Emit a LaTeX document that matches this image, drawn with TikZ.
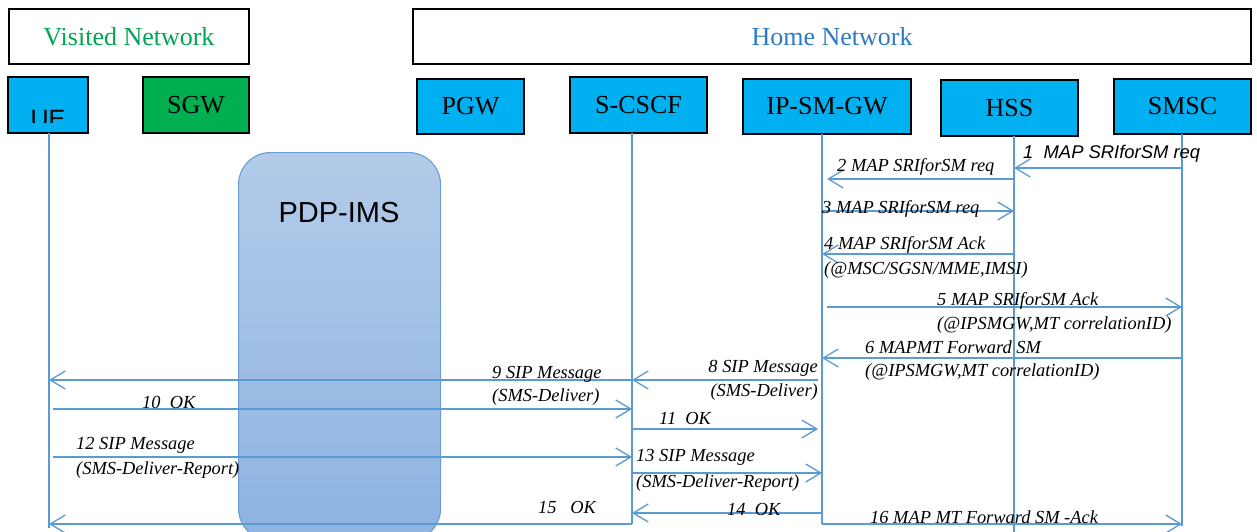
\documentclass[tikz,border=0pt]{standalone}
\usepackage{fontspec}
\setmainfont{Liberation Serif}
\newfontfamily\arialf{Liberation Sans}
\usetikzlibrary{arrows.meta}
\definecolor{entfill}{HTML}{00B0F0}
\definecolor{sgwfill}{HTML}{00B050}
\definecolor{lnblue}{HTML}{5B9BD5}
\definecolor{vgreen}{HTML}{00A651}
\definecolor{hblue}{HTML}{2E7BC4}
\definecolor{pdptop}{HTML}{B3CBE8}
\definecolor{pdpbot}{HTML}{8DB3E2}
\definecolor{pdpline}{HTML}{6D9DD4}
\tikzset{
  entity/.style={draw=black, line width=1.2pt, fill=entfill, inner sep=0pt, font=\fontsize{26}{28}\selectfont},
  netbox/.style={draw=black, line width=1.2pt, fill=white, inner sep=0pt, font=\fontsize{26}{28}\selectfont},
  pdpbox/.style={draw=pdpline, line width=1.1pt, rounded corners=32pt, top color=pdptop, bottom color=pdpbot, inner sep=0pt},
  life/.style={draw=lnblue, line width=1.1pt},
  msg/.style={draw=lnblue, line width=1.3pt, -{Straight Barb[length=15pt,width=18pt]}},
  lbl/.style={font=\itshape\fontsize{18.4}{22}\selectfont, inner sep=0pt, anchor=base west},
  lblr/.style={lbl, anchor=base east},
}
\begin{document}
\begin{tikzpicture}[x=1pt,y=-1pt]
\useasboundingbox (0,0) rectangle (1257,532);
\fill[white] (0,0) rectangle (1257,532);

% network boxes
\node[netbox, minimum width=240pt, minimum height=55pt, text=vgreen] (visited) at (129,36.5) {Visited Network};
\node[netbox, minimum width=838pt, minimum height=55pt, text=hblue] (home) at (832,36.5) {Home Network};

% entities
\node[entity, minimum width=80pt, minimum height=56pt] (ue) at (48,105) {};
\begin{scope}
  \clip (10,79) rectangle (86,123);
  \node[font=\arialf\fontsize{25}{25}\selectfont, inner sep=0pt, anchor=base] (uetext) at (48,128) {UE};
\end{scope}
\node[entity, fill=sgwfill, minimum width=106pt, minimum height=56pt] (sgw) at (196,105) {SGW};
\node[entity, minimum width=107pt, minimum height=55pt] (pgw) at (470.5,106.5) {PGW};
\node[entity, minimum width=137pt, minimum height=56pt] (scscf) at (638.5,105) {S-CSCF};
\node[entity, minimum width=168pt, minimum height=55pt] (ipsmgw) at (827,106.5) {IP-SM-GW};
\node[entity, minimum width=137pt, minimum height=56pt] (hss) at (1009.5,108) {HSS};
\node[entity, minimum width=137pt, minimum height=55pt] (smsc) at (1182.5,106.5) {SMSC};

% PDP-IMS
\node[pdpbox, minimum width=202pt, minimum height=388pt, anchor=north west] (pdp) at (238,152) {};
\node[font=\arialf\fontsize{29}{30}\selectfont, inner sep=0pt] (pdptext) at (339,212.5) {PDP-IMS};

% lifelines
\coordinate (ueT) at (49,133);   \coordinate (ueB) at (49,528);
\coordinate (scT) at (632,133);  \coordinate (scB) at (632,524);
\coordinate (ipT) at (822,134);  \coordinate (ipB) at (822,524);
\coordinate (hsT) at (1014,136); \coordinate (hsB) at (1014,534);
\coordinate (smT) at (1182,134); \coordinate (smB) at (1182,526);
\draw[life] (ueT) -- (ueB);
\draw[life] (scT) -- (scB);
\draw[life] (ipT) -- (ipB);
\draw[life] (hsT) -- (hsB);
\draw[life] (smT) -- (smB);

% messages
\draw[msg] (smT |- 0,168) -- (hsT |- 0,168);
\node[lbl, font=\arialf\itshape\fontsize{18.4}{22}\selectfont] (l1) at (1023,158) {1\ \ MAP SRIforSM req};

\draw[msg, shorten >=5pt] (hsT |- 0,179) -- (ipT |- 0,179);
\node[lbl] (l2) at (837,171) {2 MAP SRIforSM req};

\draw[msg] (ipT |- 0,211) -- (hsT |- 0,211);
\node[lbl] (l3) at (822,213) {3 MAP SRIforSM req};

\draw[msg] (hsT |- 0,254) -- (ipT |- 0,254);
\node[lbl] (l4a) at (824,249) {4 MAP SRIforSM Ack};
\node[lbl] (l4b) at (824,274) {(@MSC/SGSN/MME,IMSI)};

\draw[msg, shorten <=5pt] (ipT |- 0,307) -- (smT |- 0,307);
\node[lbl] (l5a) at (937,305) {5 MAP SRIforSM Ack};
\node[lbl] (l5b) at (937,329) {(@IPSMGW,MT correlationID)};

\draw[msg] (smT |- 0,358) -- (ipT |- 0,358);
\node[lbl] (l6a) at (865,353) {6 MAPMT Forward SM};
\node[lbl] (l6b) at (865,376) {(@IPSMGW,MT correlationID)};

\draw[msg, shorten <=4pt] (ipT |- 0,380) -- (scT |- 0,380);
\node[lblr] (l8a) at (818,372) {8 SIP Message};
\node[lblr] (l8b) at (818,396) {(SMS-Deliver)};

\draw[msg] (scT |- 0,380) -- (ueT |- 0,380);
\node[lbl] (l9a) at (492,378) {9 SIP Message};
\node[lbl] (l9b) at (492,401) {(SMS-Deliver)};

\draw[msg, shorten <=4pt] (ueT |- 0,409) -- (scT |- 0,409);
\node[lbl] (l10) at (142,408) {10\ \ OK};

\draw[msg, shorten >=4pt] (scT |- 0,429) -- (ipT |- 0,429);
\node[lbl] (l11) at (659,424) {11\ \ OK};

\draw[msg, shorten <=4pt] (ueT |- 0,457) -- (scT |- 0,457);
\node[lbl] (l12a) at (76,449) {12 SIP Message};
\node[lbl] (l12b) at (76,474) {(SMS-Deliver-Report)};

\draw[msg] (scT |- 0,473) -- (ipT |- 0,473);
\node[lbl] (l13a) at (636,461) {13 SIP Message};
\node[lbl] (l13b) at (636,487) {(SMS-Deliver-Report)};

\draw[msg] (ipT |- 0,513) -- (scT |- 0,513);
\node[lbl] (l14) at (727,515) {14\ \ OK};

\draw[msg] (scB) -- (ueT |- scB);
\node[lbl] (l15) at (538,513) {15\ \ \ OK};

\draw[msg] (ipB) -- (smT |- ipB);
\node[lbl] (l16) at (870,523) {16 MAP MT Forward SM -Ack};
\end{tikzpicture}
\end{document}
